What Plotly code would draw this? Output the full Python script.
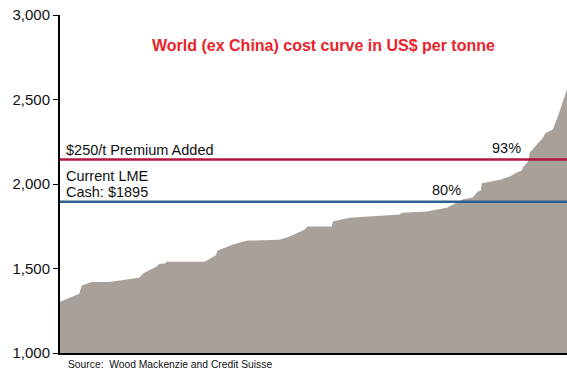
import plotly.graph_objects as go

# Cumulative production share (%) and cash cost (US$/t)
cum_pct = [0, 3.8, 4.3, 6.3, 9.7, 15.6, 16.6, 19.0, 19.6, 20.8, 20.9, 28.5, 29.4, 30.8, 31.0,
           34.0, 37.0, 43.3, 45.3, 48.2, 48.8, 53.6, 53.8, 57.1, 67.0, 67.4, 72.3, 76.3,
           78.3, 79.4, 81.4, 82.4, 83.0, 83.2, 86.8, 88.7, 90.1, 91.1, 91.3, 92.3, 92.7,
           93.3, 93.7, 95.3, 95.7, 97.2, 98.2, 100]
cost = [1303, 1350, 1400, 1420, 1420, 1445, 1475, 1510, 1528, 1530, 1540, 1540, 1555, 1580, 1605,
        1640, 1665, 1670, 1690, 1730, 1748, 1748, 1778, 1800, 1820, 1830, 1837, 1860,
        1890, 1908, 1920, 1955, 1960, 2005, 2025, 2045, 2068, 2080, 2098, 2133, 2187,
        2210, 2222, 2275, 2300, 2323, 2400, 2560]

lme_cash = 1895
premium_line = 2145
lme_pct_label = "80%"
premium_pct_label = "93%"
lme_label_x = 76.3
premium_label_x = 88.0

y_ticks = [1000, 1500, 2000, 2500, 3000]
y_tick_text = ["1,000", "1,500", "2,000", "2,500", "3,000"]

FONT = "Liberation Sans, Arial, sans-serif"

fig = go.Figure()
fig.add_trace(go.Scatter(x=cum_pct, y=cost, mode="lines", line=dict(width=0, color="#A8A09A"),
                         fill="tozeroy", fillcolor="#A8A09A", hoverinfo="skip"))
fig.add_trace(go.Scatter(x=[0, 100], y=[premium_line, premium_line], mode="lines",
                         line=dict(color="#B3153F", width=2.5)))
fig.add_trace(go.Scatter(x=[0, 100], y=[lme_cash, lme_cash], mode="lines",
                         line=dict(color="#2D6090", width=2.5)))

ann_font = dict(family=FONT, size=14.5, color="#111111")
annotations = [
    dict(x=0.52, xref="paper", y=2819, yref="y", text="<b>World (ex China) cost curve in US$ per tonne</b>",
         showarrow=False, font=dict(family=FONT, size=16, color="#E8232B"), xanchor="center", yanchor="middle"),
    dict(x=0.8, y=premium_line, text="$250/t Premium Added", showarrow=False, font=ann_font,
         xanchor="left", yanchor="bottom", yshift=0),
    dict(x=0.8, y=lme_cash, text="Current LME", showarrow=False, font=ann_font,
         xanchor="left", yanchor="bottom", yshift=16),
    dict(x=0.8, y=lme_cash, text="Cash: $1895", showarrow=False, font=ann_font,
         xanchor="left", yanchor="bottom", yshift=0),
    dict(x=lme_label_x, y=lme_cash, text=lme_pct_label, showarrow=False, font=ann_font,
         xanchor="center", yanchor="bottom", yshift=2),
    dict(x=premium_label_x, y=premium_line, text=premium_pct_label, showarrow=False, font=ann_font,
         xanchor="center", yanchor="bottom", yshift=2),
    dict(x=0.012, xref="paper", y=-0.033, yref="paper", text="Source:  Wood Mackenzie and Credit Suisse",
         showarrow=False, font=dict(family=FONT, size=10.3, color="#111111"), xanchor="left", yanchor="middle"),
]

fig.update_layout(
    width=567, height=369,
    margin=dict(l=60, r=0, t=15, b=16),
    paper_bgcolor="white", plot_bgcolor="white",
    showlegend=False,
    annotations=annotations,
    xaxis=dict(range=[0, 100], showgrid=False, zeroline=False, showticklabels=False, ticks="",
               showline=True, linecolor="black", linewidth=2),
    yaxis=dict(range=[1000, 3000], tickvals=y_ticks, ticktext=y_tick_text, showgrid=False,
               zeroline=False, showline=True, linecolor="black", linewidth=2, ticks="outside",
               ticklen=5, tickcolor="black", tickwidth=1,
               tickfont=dict(family=FONT, size=15, color="#111111")),
)

fig.write_html("out.html")
